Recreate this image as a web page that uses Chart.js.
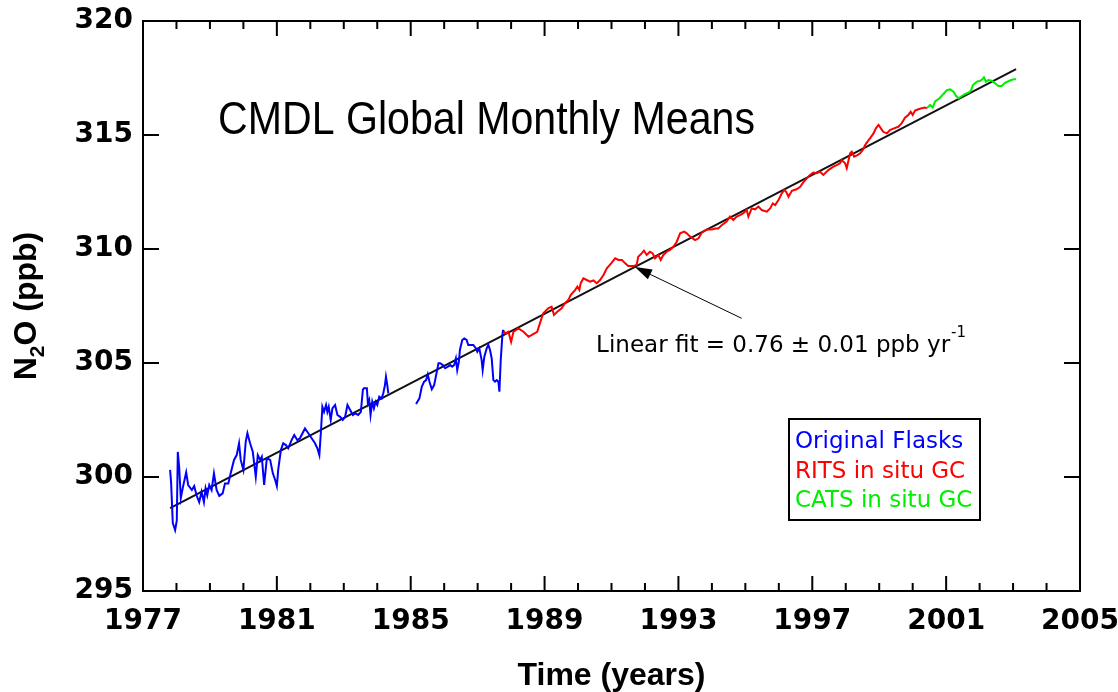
<!DOCTYPE html>
<html>
<head>
<meta charset="utf-8">
<script src="https://cdn.jsdelivr.net/npm/chart.js@4.4.1/dist/chart.umd.min.js"></script>
<style>
  html, body { margin: 0; padding: 0; background: #fff; }
  #wrap { width: 1118px; height: 692px; }
</style>
</head>
<body>
<div id="wrap"><canvas id="n2oChart"></canvas></div>
<script>
const xTicks = [1977, 1981, 1985, 1989, 1993, 1997, 2001, 2005];
const yTicks = [295, 300, 305, 310, 315, 320];

// Original flasks (null marks the gap in 1984-85)
const flaskYears = [
  1977.81, 1977.84, 1977.89, 1977.96, 1978.01, 1978.04, 1978.08, 1978.13, 1978.20, 1978.29,
  1978.35, 1978.46, 1978.53, 1978.60, 1978.68, 1978.75, 1978.82, 1978.87, 1978.92, 1978.98,
  1979.05, 1979.12, 1979.20, 1979.28, 1979.38, 1979.45, 1979.55, 1979.62, 1979.72, 1979.80,
  1979.87, 1979.92, 1980.00, 1980.07, 1980.12, 1980.20, 1980.28, 1980.37, 1980.43, 1980.50,
  1980.55, 1980.62, 1980.70, 1980.80, 1980.88, 1980.95, 1981.00, 1981.04, 1981.12, 1981.19,
  1981.27, 1981.34, 1981.44, 1981.52, 1981.61, 1981.69, 1981.84, 1981.94, 1982.04, 1982.14,
  1982.21, 1982.27, 1982.32, 1982.36, 1982.41, 1982.47, 1982.51, 1982.55, 1982.61, 1982.66,
  1982.74, 1982.81, 1982.89, 1982.97, 1983.04, 1983.11, 1983.19, 1983.27, 1983.34, 1983.43,
  1983.51, 1983.57, 1983.60, 1983.69, 1983.72, 1983.76, 1983.80, 1983.85, 1983.90, 1983.95,
  1984.00, 1984.06, 1984.13, 1984.18, 1984.23, 1984.26, 1984.30, 1984.33, 1984.75, 1985.16,
  1985.26, 1985.33, 1985.40, 1985.46, 1985.51, 1985.56, 1985.63, 1985.70, 1985.76, 1985.83,
  1985.88, 1985.96, 1986.03, 1986.11, 1986.18, 1986.24, 1986.30, 1986.35, 1986.39, 1986.44,
  1986.47, 1986.54, 1986.60, 1986.67, 1986.72, 1986.79, 1986.87, 1986.95, 1986.99, 1987.05,
  1987.12, 1987.15, 1987.20, 1987.27, 1987.32, 1987.37, 1987.42, 1987.47, 1987.52, 1987.57,
  1987.62, 1987.65, 1987.69, 1987.74, 1987.76
];
const flaskN2O = [
  300.31, 299.74, 297.98, 297.67, 298.10, 301.10, 300.45, 299.08, 299.60, 300.20,
  299.65, 299.43, 299.60, 299.20, 298.90, 299.35, 298.90, 299.50, 299.20, 299.65,
  299.43, 300.16, 299.43, 299.17, 299.28, 299.72, 299.72, 300.16, 300.75, 300.96,
  301.48, 300.75, 300.31, 301.55, 301.92, 301.48, 301.11, 300.01, 300.96, 300.75,
  300.89, 299.65, 300.82, 300.75, 300.16, 299.87, 299.60, 300.31, 301.18, 301.48,
  301.40, 301.26, 301.62, 301.84, 301.62, 301.70, 302.13, 301.92, 301.70, 301.48,
  301.26, 300.96, 302.06, 303.08, 302.86, 303.16, 302.86, 303.08, 302.50, 303.01,
  303.16, 302.72, 302.64, 302.50, 302.64, 303.16, 302.94, 302.72, 302.79, 302.72,
  302.86, 303.82, 303.89, 303.89, 303.23, 303.38, 302.72, 303.30, 303.01, 303.30,
  303.16, 303.52, 303.45, 303.67, 304.03, 304.40, 304.03, 303.67, null, 303.20,
  303.45, 303.96, 304.18, 304.25, 304.50, 304.18, 303.85, 304.03, 304.47, 304.99,
  304.99, 304.91, 304.77, 304.84, 304.91, 304.84, 304.91, 305.20, 304.69, 305.06,
  305.57, 306.01, 306.08, 306.01, 305.79, 305.79, 305.79, 305.64, 305.49, 305.64,
  305.13, 304.69, 305.28, 305.64, 305.79, 305.57, 305.20, 304.25, 304.18, 304.25,
  304.18, 303.74, 305.13, 306.23, 306.45
];

// RITS in situ GC
const ritsYears = [
  1987.76, 1987.82, 1987.92, 1988.00, 1988.07, 1988.22, 1988.37, 1988.52, 1988.66, 1988.78,
  1988.86, 1988.96, 1989.11, 1989.21, 1989.28, 1989.38, 1989.51, 1989.61, 1989.71, 1989.78,
  1989.91, 1989.98, 1990.04, 1990.08, 1990.16, 1990.26, 1990.36, 1990.46, 1990.56, 1990.66,
  1990.76, 1990.86, 1990.99, 1991.11, 1991.21, 1991.31, 1991.41, 1991.50, 1991.65, 1991.75,
  1991.80, 1991.90, 1991.97, 1992.05, 1992.15, 1992.23, 1992.30, 1992.40, 1992.47, 1992.55,
  1992.65, 1992.75, 1992.85, 1992.95, 1993.05, 1993.17, 1993.25, 1993.35, 1993.50, 1993.60,
  1993.70, 1993.85, 1994.00, 1994.10, 1994.19, 1994.30, 1994.44, 1994.54, 1994.64, 1994.74,
  1994.84, 1994.94, 1995.04, 1995.09, 1995.19, 1995.29, 1995.39, 1995.49, 1995.64, 1995.74,
  1995.82, 1995.89, 1995.99, 1996.09, 1996.16, 1996.22, 1996.29, 1996.39, 1996.53, 1996.64,
  1996.73, 1996.93, 1997.03, 1997.13, 1997.23, 1997.33, 1997.48, 1997.63, 1997.73, 1997.83,
  1997.88, 1997.98, 1998.03, 1998.13, 1998.18, 1998.25, 1998.35, 1998.43, 1998.51, 1998.58,
  1998.65, 1998.73, 1998.83, 1998.90, 1998.98, 1999.05, 1999.12, 1999.23, 1999.32, 1999.44,
  1999.57, 1999.67, 1999.77, 1999.87, 1999.94, 2000.00, 2000.07, 2000.17, 2000.27, 2000.37,
  2000.42
];
const ritsN2O = [
  306.45, 306.30, 306.37, 305.93, 306.37, 306.52, 306.37, 306.15, 306.27, 306.37,
  306.74, 307.18, 307.40, 307.47, 307.11, 307.25, 307.40, 307.62, 307.76, 307.98,
  308.20, 308.35, 308.20, 308.50, 308.71, 308.64, 308.57, 308.62, 308.50, 308.64,
  308.86, 309.15, 309.37, 309.59, 309.52, 309.52, 309.37, 309.25, 309.25, 309.30,
  309.66, 309.81, 309.93, 309.74, 309.88, 309.81, 309.59, 309.74, 309.52, 309.74,
  309.88, 309.96, 310.10, 310.32, 310.69, 310.76, 310.69, 310.54, 310.39, 310.47,
  310.72, 310.86, 310.86, 310.90, 310.90, 311.05, 311.20, 311.42, 311.27, 311.42,
  311.49, 311.57, 311.71, 311.42, 311.78, 311.74, 311.86, 311.71, 311.64, 311.78,
  312.00, 311.93, 312.15, 312.44, 312.59, 312.51, 312.29, 312.55, 312.62, 312.73,
  312.92, 313.25, 313.35, 313.32, 313.39, 313.25, 313.46, 313.61, 313.68, 313.76,
  313.90, 313.76, 313.54, 314.20, 314.27, 314.05, 314.12, 314.20, 314.34, 314.56,
  314.71, 314.86, 315.07, 315.29, 315.44, 315.29, 315.14, 315.07, 315.22, 315.29,
  315.36, 315.51, 315.76, 315.88, 316.02, 315.88, 316.07, 316.13, 316.17, 316.20,
  316.17
];

// CATS in situ GC
const catsYears = [
  2000.42, 2000.52, 2000.60, 2000.67, 2000.80, 2000.92, 2001.02, 2001.12, 2001.22, 2001.30,
  2001.37, 2001.47, 2001.57, 2001.67, 2001.74, 2001.80, 2001.92, 2002.02, 2002.08, 2002.13,
  2002.19, 2002.26, 2002.36, 2002.46, 2002.56, 2002.66, 2002.76, 2002.89, 2003.01, 2003.09
];
const catsN2O = [
  316.17, 316.32, 316.21, 316.47, 316.61, 316.80, 316.97, 317.00, 316.90, 316.71,
  316.61, 316.71, 316.80, 316.86, 316.94, 317.19, 317.34, 317.38, 317.44, 317.53,
  317.34, 317.41, 317.38, 317.27, 317.15, 317.15, 317.29, 317.38, 317.44, 317.44
];

// linear fit, 0.76 ppb per year
const fitYears = [1977.81, 2003.09];
const fitN2O = [298.63, 317.89];

const seriesLabels = ['Original Flasks', 'RITS in situ GC', 'CATS in situ GC'];
const seriesColors = ['#0000ff', '#ff0000', '#00ee00'];

function toPoints(xs, ys) {
  return xs.map(function (x, i) { return { x: x, y: ys[i] }; });
}

const tickFont = { family: 'DejaVu Sans', size: 28, weight: 'bold' };

const overlayPlugin = {
  id: 'overlay',
  afterDatasetsDraw(chart) {
    const { ctx, chartArea: area } = chart;
    const xs = chart.scales.x;
    const ys = chart.scales.y;

    ctx.save();
    ctx.strokeStyle = '#000';
    ctx.lineWidth = 2;
    ctx.strokeRect(area.left, area.top, area.right - area.left, area.bottom - area.top);

    // inward ticks on all four sides, minor ones every year
    ctx.beginPath();
    for (let yr = xTicks[0]; yr <= xTicks[xTicks.length - 1]; yr++) {
      const px = xs.getPixelForValue(yr);
      const len = xTicks.includes(yr) ? 15 : 8;
      ctx.moveTo(px, area.bottom);
      ctx.lineTo(px, area.bottom - len);
      ctx.moveTo(px, area.top);
      ctx.lineTo(px, area.top + len);
    }
    yTicks.forEach(function (v) {
      const py = ys.getPixelForValue(v);
      ctx.moveTo(area.left, py);
      ctx.lineTo(area.left + 16, py);
      ctx.moveTo(area.right, py);
      ctx.lineTo(area.right - 16, py);
    });
    ctx.stroke();

    // title inside the plot
    ctx.fillStyle = '#000';
    ctx.textAlign = 'left';
    ctx.textBaseline = 'alphabetic';
    ctx.font = '46px "Liberation Sans", Arial, sans-serif';
    ctx.fillText('CMDL Global Monthly Means', area.left + 75, area.top + 113, 537);

    // arrow to the fit line
    const tipX = xs.getPixelForValue(1991.70);
    const tipY = ys.getPixelForValue(309.21);
    const tailX = xs.getPixelForValue(1994.89);
    const tailY = ys.getPixelForValue(306.96);
    const ang = Math.atan2(tipY - tailY, tipX - tailX);
    const headLen = 17;
    const headHalf = 5.5;
    const baseX = tipX - headLen * Math.cos(ang);
    const baseY = tipY - headLen * Math.sin(ang);
    ctx.lineWidth = 1;
    ctx.beginPath();
    ctx.moveTo(tailX, tailY);
    ctx.lineTo(baseX, baseY);
    ctx.stroke();
    ctx.beginPath();
    ctx.moveTo(tipX, tipY);
    ctx.lineTo(baseX + headHalf * Math.sin(ang), baseY - headHalf * Math.cos(ang));
    ctx.lineTo(baseX - headHalf * Math.sin(ang), baseY + headHalf * Math.cos(ang));
    ctx.closePath();
    ctx.fill();

    // annotation text
    const noteX = xs.getPixelForValue(1990.54);
    const noteY = ys.getPixelForValue(305.48);
    ctx.font = '23px "DejaVu Sans", sans-serif';
    const note = 'Linear fit = 0.76 \u00b1 0.01 ppb yr';
    ctx.fillText(note, noteX, noteY);
    const noteW = ctx.measureText(note).width;
    ctx.font = '15px "DejaVu Sans", sans-serif';
    ctx.fillText('-1', noteX + noteW + 1, noteY - 15);

    // legend box
    const boxL = area.right - 291;
    const boxT = area.top + 398;
    ctx.lineWidth = 2;
    ctx.fillStyle = '#fff';
    ctx.fillRect(boxL, boxT, 191, 101);
    ctx.strokeRect(boxL, boxT, 191, 101);
    ctx.font = '23px "DejaVu Sans", sans-serif';
    seriesLabels.forEach(function (label, i) {
      ctx.fillStyle = seriesColors[i];
      ctx.fillText(label, boxL + 6, boxT + 29 + i * 29.5);
    });

    // y axis title with subscript
    ctx.fillStyle = '#000';
    ctx.translate(36, (area.top + area.bottom) / 2);
    ctx.rotate(-Math.PI / 2);
    const bigFont = 'bold 32px "Liberation Sans", Arial, sans-serif';
    const subFont = 'bold 21px "Liberation Sans", Arial, sans-serif';
    ctx.font = bigFont;
    const wN = ctx.measureText('N').width;
    const wRest = ctx.measureText('O (ppb)').width;
    ctx.font = subFont;
    const wSub = ctx.measureText('2').width;
    let cx = -(wN + wSub + wRest) / 2;
    ctx.font = bigFont;
    ctx.fillText('N', cx, 0);
    cx += wN;
    ctx.font = subFont;
    ctx.fillText('2', cx, 8);
    cx += wSub;
    ctx.font = bigFont;
    ctx.fillText('O (ppb)', cx, 0);

    ctx.restore();
  }
};

new Chart(document.getElementById('n2oChart').getContext('2d'), {
  type: 'scatter',
  plugins: [overlayPlugin],
  data: {
    datasets: [
      {
        label: seriesLabels[0],
        data: toPoints(flaskYears, flaskN2O),
        showLine: true,
        spanGaps: false,
        borderColor: seriesColors[0],
        borderWidth: 2,
        pointRadius: 0,
        tension: 0
      },
      {
        label: seriesLabels[1],
        data: toPoints(ritsYears, ritsN2O),
        showLine: true,
        borderColor: seriesColors[1],
        borderWidth: 2,
        pointRadius: 0,
        tension: 0
      },
      {
        label: seriesLabels[2],
        data: toPoints(catsYears, catsN2O),
        showLine: true,
        borderColor: seriesColors[2],
        borderWidth: 2,
        pointRadius: 0,
        tension: 0
      },
      {
        label: 'Linear fit',
        data: toPoints(fitYears, fitN2O),
        showLine: true,
        borderColor: '#111',
        borderWidth: 2,
        pointRadius: 0
      }
    ]
  },
  options: {
    responsive: true,
    maintainAspectRatio: false,
    animation: false,
    layout: { padding: { left: 0, top: 21, right: 38, bottom: 0 } },
    plugins: {
      legend: { display: false },
      tooltip: { enabled: false }
    },
    scales: {
      x: {
        type: 'linear',
        min: 1977,
        max: 2005,
        afterBuildTicks(scale) {
          scale.ticks = xTicks.map(function (v) { return { value: v }; });
        },
        afterFit(scale) {
          scale.height = 101;
          scale.paddingLeft = 0;
          scale.paddingRight = 0;
        },
        grid: { display: false, drawTicks: false, tickLength: 0 },
        border: { display: false },
        ticks: {
          color: '#000',
          font: tickFont,
          padding: 14,
          maxRotation: 0,
          autoSkip: false,
          callback(value) { return String(value); }
        },
        title: {
          display: true,
          text: 'Time (years)',
          color: '#000',
          font: { family: 'Liberation Sans', size: 32, weight: 'bold', lineHeight: 1.0 },
          padding: { top: 0, bottom: 0 }
        }
      },
      y: {
        min: 295,
        max: 320,
        afterBuildTicks(scale) {
          scale.ticks = yTicks.map(function (v) { return { value: v }; });
        },
        afterFit(scale) {
          scale.width = 143;
          scale.paddingTop = 0;
          scale.paddingBottom = 0;
        },
        grid: { display: false, drawTicks: false, tickLength: 0 },
        border: { display: false },
        ticks: {
          color: '#000',
          font: tickFont,
          padding: 10,
          callback(value) { return String(value); }
        }
      }
    }
  }
});
</script>
</body>
</html>
